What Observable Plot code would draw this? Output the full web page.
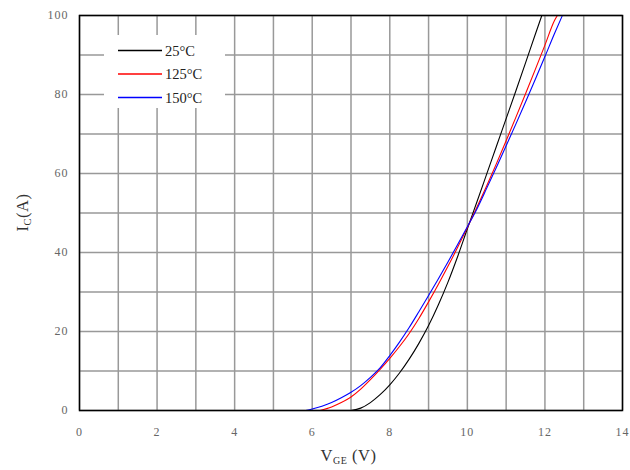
<!DOCTYPE html>
<html>
<head>
<meta charset="utf-8">
<script src="https://cdn.jsdelivr.net/npm/d3@7"></script>
<script src="https://cdn.jsdelivr.net/npm/@observablehq/plot@0.6"></script>
<style>
  html, body { margin: 0; padding: 0; background: white; }
  #wrap { position: relative; width: 630px; height: 470px; }
  #legend { position: absolute; background: white; font-family: "Liberation Serif", serif; }
</style>
</head>
<body>
<div id="wrap"></div>
<script>
// ---- data ----
const seriesLabels = ["25°C", "125°C", "150°C"];
const seriesColors = ["#000000", "#ff0000", "#0000ff"];

const vge25  = [7.0, 7.25, 7.5, 7.75, 8.0, 8.25, 8.5, 8.75, 9.0, 9.25, 9.5, 9.75, 10.0, 10.25, 10.5, 10.75, 11.0, 11.25, 11.5, 11.75, 11.92];
const ic25   = [0,   0.6,  2.0, 4.0,  6.5, 9.5,  13.0, 17.0, 21.5, 26.7, 32.5, 39.0, 46.0, 52.9, 59.9, 66.9, 73.9, 80.9, 88.0, 95.2, 100];

const vge125 = [6.2, 6.5, 6.75, 7.0, 7.25, 7.5, 7.75, 8.0, 8.25, 8.5, 8.75, 9.0, 9.25, 9.5, 9.75, 10.0, 10.25, 10.5, 10.75, 11.0, 11.25, 11.5, 11.75, 12.0, 12.25, 12.32];
const ic125  = [0,   0.9, 2.0,  3.4, 5.4,  7.8, 10.4, 13.2, 16.2, 19.5, 23.3, 27.5, 31.9, 36.5, 41.3, 46.3, 51.5, 56.9, 62.5, 68.3, 74.2, 80.2, 86.3, 92.5, 98.8, 100];

const vge150 = [5.83, 6.0, 6.25, 6.5, 6.75, 7.0, 7.25, 7.5, 7.75, 8.0, 8.25, 8.5, 8.75, 9.0, 9.25, 9.5, 9.75, 10.0, 10.25, 10.5, 10.75, 11.0, 11.25, 11.5, 11.75, 12.0, 12.25, 12.45];
const ic150  = [0,    0.4, 1.1,  2.0, 3.2,  4.6, 6.3,  8.4, 10.8, 13.9, 17.3, 21.0, 25.0, 29.1, 33.3, 37.6, 42.0, 46.5, 51.1, 56.3, 61.6, 67.0, 72.5, 78.1, 83.8, 89.6, 95.5, 100];

const xTickLabels = [0, 2, 4, 6, 8, 10, 12, 14];
const yTickLabels = [0, 20, 40, 60, 80, 100];
const xGridValues = [0, 1, 2, 3, 4, 5, 6, 7, 8, 9, 10, 11, 12, 13, 14];
const yGridValues = [0, 10, 20, 30, 40, 50, 60, 70, 80, 90, 100];

// ---- build table ----
const raw = [[vge25, ic25], [vge125, ic125], [vge150, ic150]];
const rows = [];
raw.forEach(([xs, ys], s) => xs.forEach((v, i) => rows.push({series: seriesLabels[s], v, a: ys[i]})));

const font = "Liberation Serif, Times New Roman, serif";

const chart = Plot.plot({
  width: 630,
  height: 470,
  marginLeft: 79,
  marginRight: 8,
  marginTop: 15,
  marginBottom: 60,
  style: {fontFamily: font, fontSize: "12px", color: "#555", background: "white", letterSpacing: "1px"},
  x: {domain: [0, 14]},
  y: {domain: [0, 100]},
  color: {domain: seriesLabels, range: seriesColors},
  marks: [
    Plot.gridX(xGridValues, {stroke: "#999", strokeOpacity: 1, strokeWidth: 1.5}),
    Plot.gridY(yGridValues, {stroke: "#999", strokeOpacity: 1, strokeWidth: 1.5}),
    Plot.axisX({ticks: xTickLabels, tickSize: 0, tickPadding: 17, label: null, fill: "#666"}),
    Plot.axisY({ticks: yTickLabels, tickSize: 0, tickPadding: 11, label: null, fill: "#666"}),
    Plot.line(rows, {x: "v", y: "a", z: "series", stroke: "series", strokeWidth: 1.1, curve: "monotone-x"}),
    Plot.frame({stroke: "#000", strokeWidth: 1.5})
  ]
});

document.getElementById("wrap").appendChild(chart);

// axis titles with subscripts
const svg = d3.select(chart);
const xs = chart.scale("x"), ys = chart.scale("y");
const midX = (xs.range[0] + xs.range[1]) / 2;
const midY = (ys.range[0] + ys.range[1]) / 2;

const xt = svg.append("text")
  .attr("x", midX - 2).attr("y", 461)
  .attr("text-anchor", "middle")
  .attr("font-family", font).attr("font-size", 16.5).attr("fill", "#333").attr("letter-spacing", "0.5px");
xt.append("tspan").text("V");
xt.append("tspan").attr("font-size", 10).attr("dy", 3).text("GE");
xt.append("tspan").attr("dy", -3).text(" (V)");

const yt = svg.append("text")
  .attr("transform", `translate(28,${midY}) rotate(-90)`)
  .attr("text-anchor", "middle")
  .attr("font-family", font).attr("font-size", 16.5).attr("fill", "#333").attr("letter-spacing", "0.5px");
yt.append("tspan").text("I");
yt.append("tspan").attr("font-size", 10.5).attr("dy", 3).text("C");
yt.append("tspan").attr("dy", -3).text("(A)");

// legend (HTML overlay with white box)
const legend = d3.select("#wrap").append("div").attr("id", "legend")
  .style("left", "104px").style("top", "35px").style("width", "121px").style("height", "73px");
const lsvg = legend.append("svg").attr("width", 121).attr("height", 73);
seriesLabels.forEach((lab, i) => {
  const yy = 15.5 + i * 23.5;
  lsvg.append("line").attr("x1", 14).attr("x2", 58).attr("y1", yy).attr("y2", yy)
    .attr("stroke", seriesColors[i]).attr("stroke-width", 1.5);
  lsvg.append("text").attr("x", 61).attr("y", yy + 5)
    .attr("font-family", font).attr("font-size", 14.5).attr("fill", "#222").text(lab);
});
</script>
</body>
</html>
